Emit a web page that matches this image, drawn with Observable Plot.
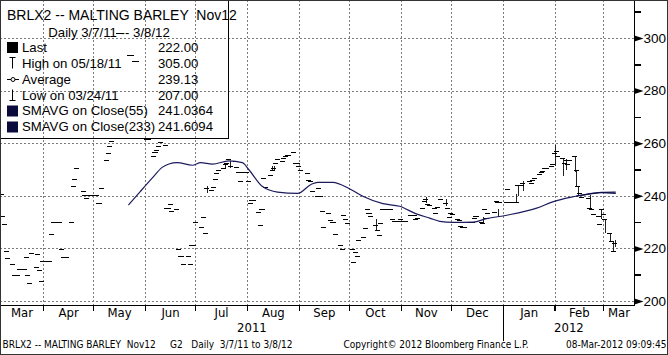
<!DOCTYPE html>
<html><head><meta charset="utf-8">
<script src="https://cdn.jsdelivr.net/npm/d3@7"></script>
<script src="https://cdn.jsdelivr.net/npm/@observablehq/plot@0.6"></script>
<style>
html,body{margin:0;padding:0;background:#fff;}
#chart{width:668px;height:355px;}
svg text{white-space:pre;}
</style></head><body><div id="chart"></div>
<script>
// ---- daily closes, one slot per weekday (null = no visible bar) ----
const mar11 = [240.8,232.4,229.2,219.1,216.2,214.1,210,210,210,212.3,212.3,216.6,210,207,218.1,213,218,211.8,207.5];
const apr11 = [215.3,215.3,215.3,225.6,230.1,230.1,230.1,219.8,216.6,216.6,216.6,230.1,243.7,246.4,250.7,null,241.9,240.3,239.3,240.3,240.3];
const may11 = [240.3,240.3,237.4,237.4,243.1,253.5,256.4,258.9,260.8,null,302,302,302,null,null,293.7,293.7,null,291.4,291.4,null,null];
const jun11 = [null,261.5,261.5,255.1,256.6,257.3,258.9,260.5,259.3,235.2,235.2,236.9,234.3,234.9,219.8,217.2,217.2,214.1,217.2,214.1,221.4,221.3];
const jul11 = [230.2,null,228,232,225.7,243.1,242.2,243.5,246.3,248.8,249.7,250.7,252,252.6,254.1,251.5,253.2,251,249,245.6,249];
const aug11 = [249,245.6,237.4,238.3,238.3,233.9,228.9,234.9,246.7,243.4,248,250,250.5,252.6,253.9,253.2,254.5,255.1,255.7,255.7,256.5,252.6,252.6];
const sep11 = [251.3,250,null,248.8,245.9,245.6,241.9,240,242.9,240,234.3,228.3,233.3,230.8,230.2,230.2,225.5,221.3,219.8,232.7,231.1,229.8];
const oct11 = [219.8,215,218.8,217.1,223.2,224.2,227.6,234.9,233.6,232.4,229,227,225.1,229.8,234.9,234.9,234.9,234.9,231.1,230.5,230.5];
const nov11 = [231.1,230.5,230.5,230.5,232.7,232.7,232.7,231.1,231.7,235.3,238,238.6,236.8,236.6,235.3,233.3,235.8,null,238.6,237.4,235.5,232];
const dec11 = [233.3,233,231.1,230.8,228.6,228,228,230.2,230.2,230.2,231.5,232.4,230.2,229.5,234.9,231.5,233.5,null,234,238,237.7,237.7];
const jan12 = [null,237.7,242.5,237.7,237.7,237.7,244.1,244.1,244.1,245,null,245.6,245,245.9,246.9,248.2,249,249.4,250.7,250.7,251.3,252];
const feb12 = [256.4,257,255,254.5,252.6,253.5,252,253.5,255.3,250,243.7,241.2,239.6,null,239.3,235.5,234.9,233,232.4,229.2,234.9];
const mar12 = [233,231.1,226,222.9,219,222];
const monthSpans = [
  ["2011-03-07","2011-03-31",mar11],["2011-04-01","2011-04-30",apr11],["2011-05-01","2011-05-31",may11],
  ["2011-06-01","2011-06-30",jun11],["2011-07-01","2011-07-31",jul11],["2011-08-01","2011-08-31",aug11],
  ["2011-09-01","2011-09-30",sep11],["2011-10-01","2011-10-31",oct11],["2011-11-01","2011-11-30",nov11],
  ["2011-12-01","2011-12-31",dec11],["2012-01-01","2012-01-31",jan12],["2012-02-01","2012-02-29",feb12],
  ["2012-03-01","2012-03-08",mar12]
];
// ---- visible high-low ranges [date, low, high] ----
const rangeBars = [
  ["2011-07-08",241,243.7],["2011-07-19",250.3,252.5],["2011-07-22",250.5,253.2],
  ["2011-08-16",249.6,251.2],["2011-08-17",249.6,251.2],["2011-10-17",227,231],
  ["2011-11-16",237.2,239.4],["2011-11-28",236,238.6],["2011-12-20",229.5,232],
  ["2011-12-29",232,235],["2012-01-09",237.7,240.5],["2012-01-10",240,244.1],
  ["2012-01-13",242,245.6],["2012-02-01",251.3,259.5],["2012-02-06",247.5,254.5],
  ["2012-02-08",250,254],["2012-02-13",249,255.3],["2012-02-14",243.7,250],
  ["2012-02-15",240,243.7],["2012-02-22",235.5,240.3],["2012-02-29",231,234.9],
  ["2012-03-02",226,231.1],["2012-03-05",223,226],["2012-03-07",218.5,222.9],["2012-03-08",220.4,223.3]
];
// ---- moving averages ----
const sma55Dates = ["2011-05-22","2011-05-29","2011-06-05","2011-06-11","2011-06-15","2011-06-20","2011-06-29","2011-07-04","2011-07-11","2011-07-21","2011-07-29","2011-08-02","2011-08-10","2011-08-19","2011-08-31","2011-09-08","2011-09-12","2011-09-21","2011-10-01","2011-10-09","2011-10-21","2011-10-31","2011-11-10","2011-11-18","2011-11-24","2011-12-02","2011-12-14","2011-12-22","2012-01-03","2012-01-21","2012-01-31","2012-02-10","2012-02-16","2012-02-28","2012-03-08"];
const sma55 = [236.8,241.9,246.9,251,252.3,252.8,251.8,252.8,252.2,253.5,252.8,250,243.7,241.6,241.1,244.5,245.3,245.3,242.9,240,237.2,236.2,233.3,231.7,230.5,230.1,230.2,231.5,232.8,235.5,238,239.6,240.3,241.4,241.1];
const sma233Dates = ["2012-02-14","2012-02-22","2012-02-29","2012-03-08"];
const sma233 = [240.2,240.9,241.5,241.6];
// ---- axes / labels ----
const yMajor = [200,220,240,260,280,300];
const yMinor = [210,230,250,270,290,310];
const monthNames = ["Mar","Apr","May","Jun","Jul","Aug","Sep","Oct","Nov","Dec","Jan","Feb","Mar"];
const monthStartStr = ["2011-04-01","2011-05-01","2011-06-01","2011-07-01","2011-08-01","2011-09-01","2011-10-01","2011-11-01","2011-12-01","2012-01-01","2012-02-01","2012-03-01"];
const yearNames = ["2011","2012"];
const legendTitle = "BRLX2 -- MALTING BARLEY  Nov12";
const legendSubtitle = "Daily 3/7/11 -- 3/8/12";
const legendLabels = ["Last","High on 05/18/11","Average","Low on 03/24/11","SMAVG on Close(55)","SMAVG on Close(233)"];
const legendValues = ["222.00","305.00","239.13","207.00","241.0364","241.6094"];
const footerLeft = "BRLX2 -- MALTING BARLEY  Nov12     G2   Daily  3/7/11 to 3/8/12";
const footerMid = "Copyright\u00a9 2012 Bloomberg Finance L.P.";
const footerRight = "08-Mar-2012 09:09:45";

const NAVY = "#1b1b5e";
const FONT = "'Liberation Sans', Arial, sans-serif";
const NARROW = "'Liberation Sans Narrow', 'DejaVu Sans Condensed', 'Arial Narrow', sans-serif";
const pd = s => new Date(s + "T00:00:00Z");

// build bar table
const bars = [];
for (const [s, e, vals] of monthSpans) {
  const days = d3.utcDays(pd(s), d3.utcDay.offset(pd(e), 1)).filter(d => d.getUTCDay() % 6 !== 0);
  if (days.length !== vals.length) console.warn("length mismatch", s, days.length, vals.length);
  days.forEach((d, i) => { if (vals[i] != null) bars.push({date: d, close: vals[i]}); });
}
const ranges = rangeBars.map(([d, lo, hi]) => ({date: pd(d), lo, hi}));
const sma55Data = sma55Dates.map((d, i) => ({date: pd(d), v: sma55[i]}));
const sma233Data = sma233Dates.map((d, i) => ({date: pd(d), v: sma233[i]}));

const xDomain = [new Date("2011-03-06T07:00:00Z"), new Date("2012-03-19T12:00:00Z")];
const monthStarts = monthStartStr.map(pd);
const bounds = [xDomain[0], ...monthStarts, xDomain[1]];
const monthMids = monthNames.map((n, i) => ({name: n, date: new Date((+bounds[i] + +bounds[i + 1]) / 2)}));
const jan1 = pd("2012-01-01");
const yearMids = [
  {name: yearNames[0], date: new Date((+xDomain[0] + +jan1) / 2)},
  {name: yearNames[1], date: new Date((+jan1 + +xDomain[1]) / 2)}
];

const triRight = {draw(ctx) { ctx.moveTo(0, -3); ctx.lineTo(9, 0); ctx.lineTo(0, 3); ctx.closePath(); }};
const hTick = {draw(ctx) { ctx.moveTo(0, 0); ctx.lineTo(6, 0); }};
const vTick = {draw(ctx) { ctx.moveTo(0, 0); ctx.lineTo(0, 5); }};
const vSep = {draw(ctx) { ctx.moveTo(0, 5); ctx.lineTo(0, 35); }};

function legendMark() {
  const g = d3.create("svg:g").attr("font-family", FONT).attr("font-size", 13.2)
    .attr("fill", "#000").attr("text-anchor", "start");
  g.append("rect").attr("x", 0.5).attr("y", 0.5).attr("width", 228).attr("height", 138)
    .attr("fill", "none").attr("stroke", "#000");
  g.append("text").attr("x", 7).attr("y", 20).attr("font-size", 14).text(legendTitle);
  g.append("text").attr("x", 109).attr("y", 37).attr("text-anchor", "middle").text(legendSubtitle);
  const rowY = [47, 63, 79, 95, 110.5, 126.5];
  legendLabels.forEach((lab, i) => {
    g.append("text").attr("x", 22).attr("y", rowY[i] + 4.7).text(lab);
    g.append("text").attr("x", 158).attr("y", rowY[i] + 4.7).text(legendValues[i]);
  });
  const ic = g.append("g").attr("stroke", "#000").attr("fill", "none");
  g.append("rect").attr("x", 7).attr("y", rowY[0] - 5).attr("width", 11).attr("height", 11).attr("fill", "#000");
  ic.append("path").attr("d", `M9.5,${rowY[1]-5.5}H15.5M12.5,${rowY[1]-5.5}V${rowY[1]+5.5}`);
  ic.append("path").attr("d", `M7,${rowY[2]+0.5}H19`);
  g.append("circle").attr("cx", 13).attr("cy", rowY[2] + 0.5).attr("r", 2).attr("fill", "#fff").attr("stroke", "#000");
  ic.append("path").attr("d", `M12.5,${rowY[3]-5.5}V${rowY[3]+5.5}M9.5,${rowY[3]+5.5}H15.5`);
  g.append("rect").attr("x", 7).attr("y", rowY[4] - 5).attr("width", 11).attr("height", 11).attr("fill", "#0a0a3c");
  g.append("rect").attr("x", 7).attr("y", rowY[5] - 5).attr("width", 11).attr("height", 11).attr("fill", "#0a0a3c");
  return g.node();
}
function borderMark() {
  return d3.create("svg:rect").attr("x", 0.5).attr("y", 0.5).attr("width", 667).attr("height", 354)
    .attr("fill", "none").attr("stroke", "#333").node();
}

const grid = {stroke: "#7a7a7a", strokeDasharray: "2,2", shapeRendering: "crispEdges"};
const plot = Plot.plot({
  width: 668, height: 355,
  marginLeft: 0, marginRight: 34, marginTop: 0, marginBottom: 50,
  style: {background: "white", fontFamily: FONT, fontSize: "12.5px", overflow: "visible"},
  x: {type: "utc", domain: xDomain, axis: null},
  y: {domain: [198.48, 314.45], axis: null},
  marks: [
    Plot.ruleY(yMajor, {...grid}),
    Plot.ruleX(monthStarts, {...grid}),
    legendMark,
    Plot.ruleX(ranges, {x: "date", y1: "lo", y2: "hi", stroke: "#222", shapeRendering: "crispEdges"}),
    Plot.ruleY(bars, {y: "close", x1: d => d3.utcHour.offset(d.date, -36), x2: d => d3.utcHour.offset(d.date, 36), stroke: "#000", shapeRendering: "crispEdges"}),
    Plot.line(sma55Data, {x: "date", y: "v", stroke: NAVY, strokeWidth: 1.2, curve: "monotone-x"}),
    Plot.line(sma233Data, {x: "date", y: "v", stroke: "#101048", strokeWidth: 1.3, curve: "monotone-x"}),
    Plot.frame({stroke: "#000", shapeRendering: "crispEdges"}),
    Plot.dot(yMajor, {y: d => d, frameAnchor: "right", symbol: triRight, fill: "#000", stroke: "none"}),
    Plot.dot(yMinor, {y: d => d, frameAnchor: "right", symbol: hTick, fill: "none", stroke: "#000", shapeRendering: "crispEdges"}),
    Plot.text(yMajor, {y: d => d, text: d => String(d), frameAnchor: "right", dx: 9, textAnchor: "start", fontSize: 13.5, fill: "#000"}),
    Plot.dot(monthStarts, {x: d => d, frameAnchor: "bottom", symbol: vTick, fill: "none", stroke: "#000", shapeRendering: "crispEdges"}),
    Plot.dot([jan1], {x: d => d, frameAnchor: "bottom", symbol: vSep, fill: "none", stroke: "#000", shapeRendering: "crispEdges"}),
    Plot.text(monthMids, {x: "date", text: "name", frameAnchor: "bottom", dy: 11, fontSize: 13, fontFamily: NARROW, fill: "#000"}),
    Plot.text(yearMids, {x: "date", text: "name", frameAnchor: "bottom", dy: 26, fontSize: 13, fontFamily: NARROW, fill: "#000"}),
    Plot.text([footerLeft], {text: d => d, frameAnchor: "bottom-left", dx: 2, dy: 42, textAnchor: "start", fontSize: 10, fontFamily: NARROW, fill: "#000"}),
    Plot.text([footerMid], {text: d => d, frameAnchor: "bottom-left", dx: 343, dy: 42, textAnchor: "start", fontSize: 10, fontFamily: NARROW, fill: "#000"}),
    Plot.text([footerRight], {text: d => d, frameAnchor: "bottom-right", dx: 32, dy: 42, textAnchor: "end", fontSize: 10, fontFamily: NARROW, fill: "#000"}),
    borderMark
  ]
});
document.getElementById("chart").append(plot);
</script>
</body></html>
